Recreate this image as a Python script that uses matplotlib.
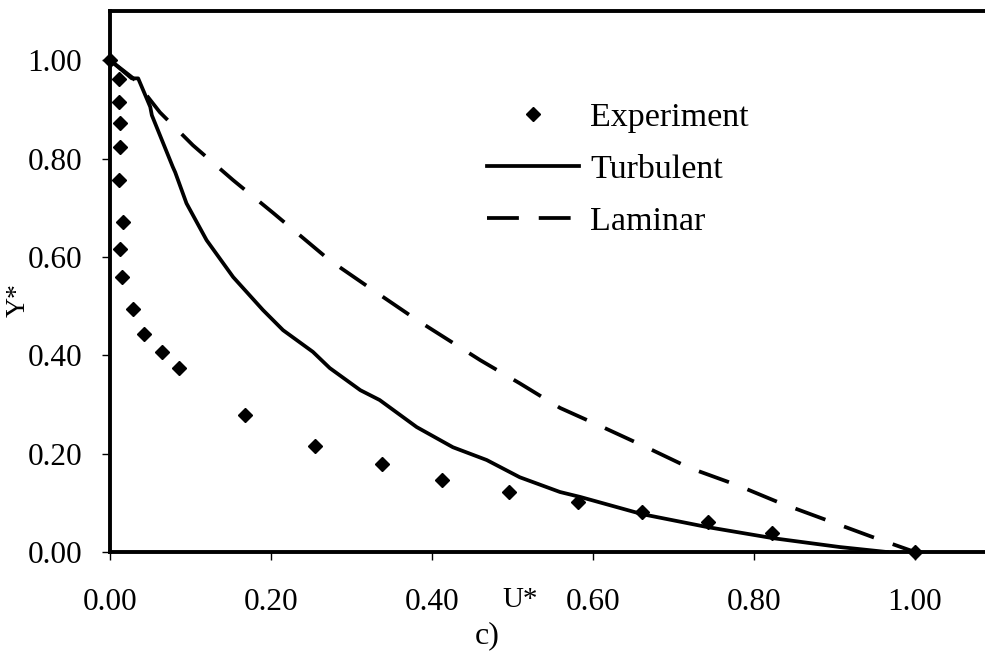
import matplotlib
matplotlib.use("Agg")
import matplotlib.pyplot as plt
from matplotlib.ticker import FormatStrFormatter

plt.rcParams['font.family'] = ['Liberation Serif', 'DejaVu Serif']

# experiment points (U*, Y*)
exp_u = [0.0, 0.011, 0.011, 0.012, 0.012, 0.011, 0.016, 0.012, 0.015, 0.028,
         0.042, 0.064, 0.086, 0.168, 0.255, 0.338, 0.412, 0.496, 0.581, 0.661,
         0.743, 0.822, 1.0]
exp_y = [1.0, 0.961, 0.914, 0.872, 0.823, 0.756, 0.671, 0.616, 0.559, 0.494,
         0.443, 0.406, 0.374, 0.278, 0.215, 0.179, 0.146, 0.122, 0.102, 0.081,
         0.061, 0.038, 0.0]

# turbulent model
turb_u = [0.0, 0.027, 0.035, 0.05, 0.052, 0.078, 0.081, 0.095, 0.12, 0.153,
          0.19, 0.215, 0.252, 0.273, 0.311, 0.335, 0.381, 0.426, 0.468, 0.509,
          0.559, 0.584, 0.661, 0.741, 0.824, 0.907, 0.965]
turb_y = [1.0, 0.963, 0.963, 0.905, 0.888, 0.783, 0.772, 0.709, 0.634, 0.559,
          0.492, 0.451, 0.407, 0.374, 0.329, 0.309, 0.254, 0.213, 0.187, 0.152,
          0.122, 0.112, 0.077, 0.051, 0.028, 0.01, 0.0]

# laminar model
lam_u = [0.0, 0.029, 0.062, 0.103, 0.153, 0.203, 0.273, 0.32, 0.381, 0.46,
         0.509, 0.559, 0.612, 0.665, 0.72, 0.779, 0.832, 0.89, 0.948, 1.0]
lam_y = [1.0, 0.963, 0.894, 0.827, 0.756, 0.689, 0.593, 0.54, 0.472, 0.39,
         0.343, 0.293, 0.254, 0.214, 0.171, 0.136, 0.1, 0.065, 0.03, 0.0]

fig = plt.figure(figsize=(9.85, 6.55), dpi=100)
ax = fig.add_axes([110/985, 1-552/655, 1-110/985, (552-11)/655])

ax.plot(exp_u, exp_y, 'D', color='black', markersize=7, label='Experiment',
        clip_on=False, zorder=3)
ax.plot(turb_u, turb_y, '-', color='black', lw=2.7, label='Turbulent')
ax.plot(lam_u, lam_y, color='black', lw=2.7, dashes=(8.5, 5.3), label='Laminar')

ax.set_xlim(0, 1.087)
ax.set_ylim(0, 1.1)
ax.set_xticks([0, 0.2, 0.4, 0.6, 0.8, 1.0])
ax.set_yticks([0, 0.2, 0.4, 0.6, 0.8, 1.0])
ax.xaxis.set_major_formatter(FormatStrFormatter('%.2f'))
ax.yaxis.set_major_formatter(FormatStrFormatter('%.2f'))
ax.tick_params(axis='both', labelsize=22.5, direction='out', length=6, width=1)
ax.tick_params(axis='x', pad=20)
ax.tick_params(axis='y', pad=14)

for s in ['left', 'bottom', 'top']:
    ax.spines[s].set_linewidth(2.8)
ax.spines['right'].set_visible(False)

fig.text(18/985, 1-300/655, 'Y*', fontsize=20, rotation=90, ha='center', va='center')
fig.text(520/985, 1-600/655, 'U*', fontsize=21, ha='center', va='center')
fig.text(487/985, 1-636/655, 'c)', fontsize=23, ha='center', va='center')

ax.legend(loc='upper left', bbox_to_anchor=(487/985, 1-102/655),
          bbox_transform=fig.transFigure, frameon=False, fontsize=24.5,
          handlelength=2.7, handletextpad=0.33, labelspacing=0.62,
          borderpad=0, borderaxespad=0, numpoints=1)

fig.savefig('out.png', dpi=100)
